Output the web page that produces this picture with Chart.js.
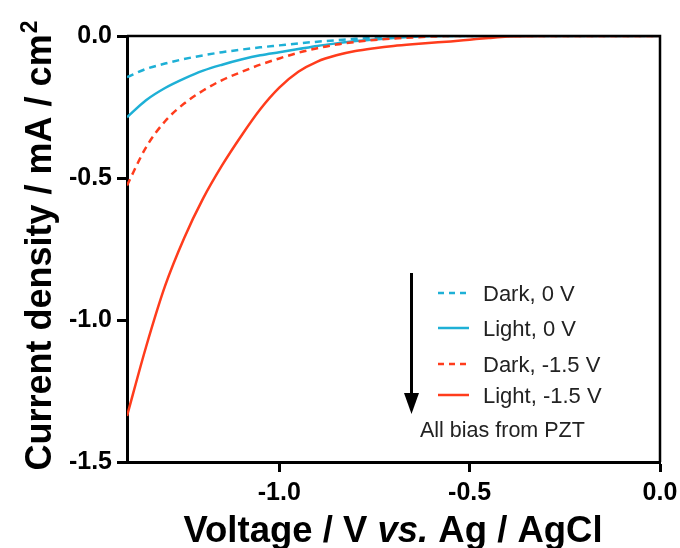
<!DOCTYPE html>
<html>
<head>
<meta charset="utf-8">
<script src="https://cdn.jsdelivr.net/npm/chart.js@4"></script>
<style>
  html, body { margin: 0; padding: 0; background: #fff; }
  #wrap { width: 680px; height: 548px; position: relative; }
</style>
</head>
<body>
<div id="wrap"><canvas id="c" width="680" height="548"></canvas></div>
<script>
// ---- data ----
const voltage = [-1.40,-1.35,-1.30,-1.25,-1.20,-1.15,-1.10,-1.05,-1.00,-0.95,-0.90,-0.85,-0.80,-0.75,-0.70,-0.65,-0.60,-0.55,-0.50,-0.45,-0.40,-0.30,-0.20,-0.10,0.00];
const darkZero   = [-0.145,-0.116,-0.097,-0.081,-0.068,-0.057,-0.048,-0.040,-0.033,-0.026,-0.020,-0.015,-0.010,-0.006,-0.003,-0.001,0,0,0,0,0,0,0,0,0];
const lightZero  = [-0.286,-0.226,-0.183,-0.150,-0.122,-0.101,-0.083,-0.068,-0.057,-0.046,-0.035,-0.026,-0.018,-0.012,-0.007,-0.003,0,0,0,0,0,0,0,0,0];
const darkBias   = [-0.526,-0.392,-0.300,-0.238,-0.192,-0.155,-0.127,-0.101,-0.079,-0.059,-0.043,-0.030,-0.021,-0.014,-0.009,-0.005,-0.002,0,0,0,0,0,0,0,0];
const lightBias  = [-1.338,-1.095,-0.880,-0.712,-0.572,-0.455,-0.352,-0.258,-0.182,-0.126,-0.090,-0.068,-0.053,-0.043,-0.035,-0.029,-0.024,-0.019,-0.013,-0.007,-0.002,0,0,0,0];
const seriesLabels = ['Dark, 0 V', 'Light, 0 V', 'Dark, -1.5 V', 'Light, -1.5 V'];
const xTicks = [-1.0, -0.5, 0.0];
const yTicks = [-1.5, -1.0, -0.5, 0.0];
const noteText = 'All bias from PZT';

const BLUE = '#1eb0d6';
const RED = '#ff3c1c';
const FONT = '"Liberation Sans", Arial, sans-serif';

const toPts = arr => voltage.map((v, i) => ({ x: v, y: arr[i] }));
const styles = [
  { color: BLUE, dash: [7, 5] },
  { color: BLUE, dash: [] },
  { color: RED, dash: [7, 5] },
  { color: RED, dash: [] }
];
const allSeries = [darkZero, lightZero, darkBias, lightBias];

const datasets = allSeries.map((arr, i) => ({
  label: seriesLabels[i],
  data: toPts(arr),
  borderColor: styles[i].color,
  borderDash: styles[i].dash,
  borderWidth: 2.5,
  pointRadius: 0,
  fill: false,
  cubicInterpolationMode: 'monotone',
  order: 4 - i
}));

const decor = {
  id: 'decor',
  afterDraw(chart) {
    const ctx = chart.ctx;
    const a = chart.chartArea;
    ctx.save();
    // top & right frame
    ctx.strokeStyle = '#000';
    ctx.lineWidth = 2.5;
    ctx.beginPath();
    ctx.moveTo(a.left, a.top);
    ctx.lineTo(a.right, a.top);
    ctx.lineTo(a.right, a.bottom);
    ctx.stroke();

    // legend
    const sampleY = [293, 328, 364, 395];
    const textY = [301, 336, 372, 403];
    ctx.font = '22px ' + FONT;
    ctx.fillStyle = '#222';
    ctx.textAlign = 'left';
    ctx.textBaseline = 'alphabetic';
    for (let i = 0; i < 4; i++) {
      ctx.beginPath();
      ctx.strokeStyle = styles[i].color;
      ctx.lineWidth = 2.5;
      ctx.setLineDash(styles[i].dash.length ? [6, 5] : []);
      ctx.moveTo(438, sampleY[i]);
      ctx.lineTo(469, sampleY[i]);
      ctx.stroke();
      ctx.setLineDash([]);
      ctx.fillText(seriesLabels[i], 483, textY[i]);
    }
    // note
    ctx.font = '21.5px ' + FONT;
    ctx.fillText(noteText, 420, 437);

    // arrow
    ctx.strokeStyle = '#000';
    ctx.fillStyle = '#000';
    ctx.lineWidth = 3;
    ctx.beginPath();
    ctx.moveTo(411.5, 273);
    ctx.lineTo(411.5, 398);
    ctx.stroke();
    ctx.beginPath();
    ctx.moveTo(404, 393);
    ctx.lineTo(419, 393);
    ctx.lineTo(411.5, 414);
    ctx.closePath();
    ctx.fill();

    // x title with italic "vs."
    const parts = [
      { t: 'Voltage / V ', f: 'bold 36.5px ' + FONT },
      { t: 'vs.', f: 'italic bold 36.5px ' + FONT },
      { t: ' Ag / AgCl', f: 'bold 36.5px ' + FONT }
    ];
    let total = 0;
    parts.forEach(p => { ctx.font = p.f; p.w = ctx.measureText(p.t).width; total += p.w; });
    let x = 393 - total / 2;
    ctx.fillStyle = '#000';
    ctx.textAlign = 'left';
    ctx.textBaseline = 'alphabetic';
    parts.forEach(p => { ctx.font = p.f; ctx.fillText(p.t, x, 542); x += p.w; });

    // y title with superscript 2
    ctx.save();
    ctx.translate(51, 246);
    ctx.rotate(-Math.PI / 2);
    const main = 'Current density / mA / cm';
    ctx.font = 'bold 36px ' + FONT;
    const mw = ctx.measureText(main).width;
    ctx.font = 'bold 23px ' + FONT;
    const sw = ctx.measureText('2').width;
    const start = -(mw + sw) / 2;
    ctx.font = 'bold 36px ' + FONT;
    ctx.fillText(main, start, 0);
    ctx.font = 'bold 23px ' + FONT;
    ctx.fillText('2', start + mw + 1, -14);
    ctx.restore();

    ctx.restore();
  }
};

new Chart(document.getElementById('c'), {
  type: 'line',
  data: { datasets },
  options: {
    responsive: false,
    animation: false,
    layout: { padding: { left: 0, right: 20, top: 36, bottom: 0 } },
    plugins: { legend: { display: false }, tooltip: { enabled: false } },
    scales: {
      x: {
        type: 'linear',
        min: -1.4,
        max: 0,
        afterFit: s => { s.height = 86; s.paddingLeft = 0; s.paddingRight = 0; },
        afterBuildTicks: s => { s.ticks = xTicks.map(v => ({ value: v })); },
        border: { color: '#000', width: 3 },
        grid: { drawOnChartArea: false, drawTicks: true, tickLength: 10, tickWidth: 3, tickColor: '#000' },
        ticks: {
          color: '#000',
          padding: 6,
          font: { family: FONT, size: 25, weight: 'bold' },
          callback: v => v.toFixed(1)
        }
      },
      y: {
        type: 'linear',
        min: -1.5,
        max: 0,
        afterFit: s => { s.width = 127; s.paddingTop = 0; s.paddingBottom = 0; },
        afterBuildTicks: s => { s.ticks = yTicks.map(v => ({ value: v })); },
        border: { color: '#000', width: 3 },
        grid: { drawOnChartArea: false, drawTicks: true, tickLength: 10, tickWidth: 3, tickColor: '#000' },
        ticks: {
          color: '#000',
          padding: 5,
          font: { family: FONT, size: 25, weight: 'bold' },
          callback: v => v.toFixed(1)
        }
      }
    }
  },
  plugins: [decor]
});
</script>
</body>
</html>
